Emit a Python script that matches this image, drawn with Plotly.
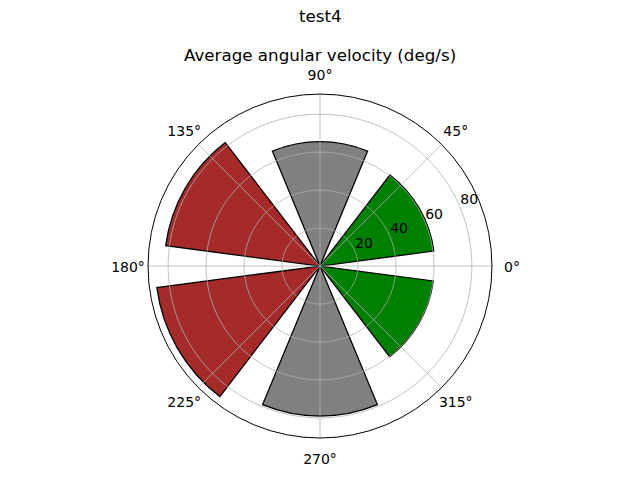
import plotly.graph_objects as go

theta_deg = [30, 90, 150, 210, 270, 330]
velocity = [60.5, 65.5, 82.0, 86.7, 79.0, 60.2]
bar_colors = ["green", "gray", "brown", "brown", "gray", "green"]
bar_width = 45
r_max = 90.6
r_ticks = [20, 40, 60, 80]
r_label_angle = 22.5
theta_ticks = [0, 45, 90, 135, 180, 225, 270, 315]
theta_labels = ["0°", "45°", "90°", "135°", "180°", "225°", "270°", "315°"]
suptitle = "test4"
subtitle = "Average angular velocity (deg/s)"

FONT = "DejaVu Sans"
GRID = "#b0b0b0"

fig = go.Figure()
fig.add_trace(go.Barpolar(
    r=velocity,
    theta=theta_deg,
    width=[bar_width] * len(theta_deg),
    marker=dict(color=bar_colors, line=dict(color="black", width=1.3)),
    opacity=1,
    showlegend=False,
))

# grid drawn above the bars, as matplotlib does
circle_theta = list(range(0, 361))
for rv in r_ticks:
    fig.add_trace(go.Scatterpolar(
        r=[rv] * len(circle_theta), theta=circle_theta, mode="lines",
        line=dict(color=GRID, width=0.8), hoverinfo="skip", showlegend=False,
    ))
for t in theta_ticks:
    fig.add_trace(go.Scatterpolar(
        r=[0, r_max], theta=[t, t], mode="lines",
        line=dict(color=GRID, width=0.8), hoverinfo="skip", showlegend=False,
    ))

# radial tick labels
fig.add_trace(go.Scatterpolar(
    r=r_ticks, theta=[r_label_angle] * len(r_ticks), mode="text",
    text=[str(v) for v in r_ticks], textposition="top right",
    textfont=dict(family=FONT, size=14, color="black"),
    hoverinfo="skip", showlegend=False,
))

# angular tick labels on a slightly larger, invisible concentric subplot
fig.add_trace(go.Scatterpolar(
    r=[1] * len(theta_ticks), theta=theta_ticks, mode="text",
    text=theta_labels, textposition="middle center",
    textfont=dict(family=FONT, size=14, color="black"),
    cliponaxis=False, hoverinfo="skip", showlegend=False, subplot="polar2",
))

hidden_axis = dict(showticklabels=False, showline=False, showgrid=False, ticks="")

fig.update_layout(
    width=640, height=480,
    margin=dict(l=0, r=0, t=0, b=0),
    paper_bgcolor="white",
    font=dict(family=FONT, size=14, color="black"),
    polar=dict(
        domain=dict(x=[0, 1], y=[0.0875, 0.804]),
        bgcolor="white",
        bargap=0,
        radialaxis=dict(
            range=[0, r_max],
            tickvals=r_ticks,
            showticklabels=False,
            showline=False,
            showgrid=False,
            ticks="",
        ),
        angularaxis=dict(
            tickvals=theta_ticks,
            showticklabels=False,
            direction="counterclockwise",
            rotation=0,
            ticks="",
            showline=True,
            linecolor="black",
            linewidth=1,
            showgrid=False,
        ),
    ),
    polar2=dict(
        domain=dict(x=[0, 1], y=[20 / 480, 404 / 480]),
        bgcolor="rgba(0,0,0,0)",
        radialaxis=dict(range=[0, 1], **hidden_axis),
        angularaxis=dict(direction="counterclockwise", rotation=0, **hidden_axis),
    ),
    annotations=[
        dict(text=suptitle, x=0.5, y=1 - 16 / 480, xref="paper", yref="paper",
             xanchor="center", yanchor="middle", showarrow=False,
             font=dict(family=FONT, size=16.7, color="black")),
        dict(text=subtitle, x=0.5, y=1 - 55 / 480, xref="paper", yref="paper",
             xanchor="center", yanchor="middle", showarrow=False,
             font=dict(family=FONT, size=16.7, color="black")),
    ],
)

fig.write_html("out.html")
